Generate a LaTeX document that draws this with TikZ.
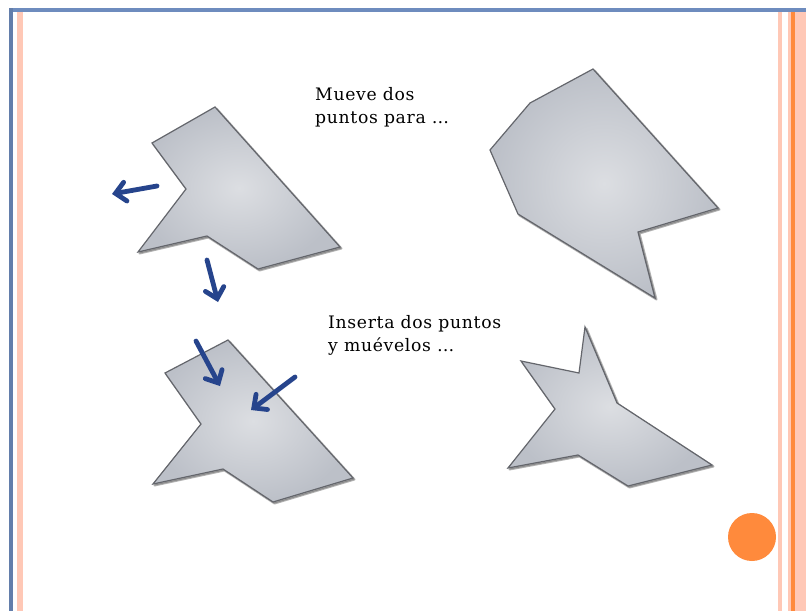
\documentclass[tikz,border=0pt]{standalone}
\usepackage{fontspec}
\setmainfont{DejaVu Serif}[LetterSpace=4]
\usetikzlibrary{arrows.meta}
\definecolor{frameblue}{RGB}{110,140,190}
\definecolor{paleor}{RGB}{255,200,182}
\definecolor{orangeA}{RGB}{255,138,60}
\definecolor{arrowblue}{RGB}{38,68,140}
\definecolor{shapein}{RGB}{220,222,226}
\definecolor{shapeout}{RGB}{188,192,200}
\definecolor{shapeline}{RGB}{100,102,108}
\tikzset{
  poly/.style={draw=shapeline, line width=1.2pt, line join=miter, inner color=shapein, outer color=shapeout},
  polyshadow/.style={fill=black!60, opacity=0.5, draw=black!60, line width=2pt, line join=round},
  movearrow/.style={draw=arrowblue, line width=4.8pt, line cap=round, -{Straight Barb[length=10pt,width=19pt,line cap=round]}},
  caption/.style={font=\fontsize{17.2}{23}\selectfont, align=left, anchor=north west, inner sep=0pt, text=black}
}
\begin{document}
\begin{tikzpicture}[x=1pt,y=-1pt]
\useasboundingbox (0,0) rectangle (806,611);
\fill[white] (0,0) rectangle (806,611);
% frame
\fill[paleor] (17,12) rectangle (23,611);
\fill[paleor] (778,12) rectangle (782,611);
\fill[paleor] (788,12) rectangle (806,611);
\fill[orangeA] (791,12) rectangle (795,611);
\fill[frameblue] (9,8) rectangle (806,12);
\fill[frameblue!90!black] (9,8) rectangle (13,611);
\fill[orangeA] (752,537) circle (24);
% shape 1
\def\shapeA{(215,107) -- (152,143) -- (186,189) -- (138,252) -- (207,236) -- (258,269) -- (340,247) -- cycle}
\fill[polyshadow, shift={(1.5,1.5)}] \shapeA;
\path[poly] \shapeA;
% shape 2
\def\shapeB{(228,340) -- (165,373) -- (201,424) -- (153,484) -- (223,469) -- (273,502) -- (353,478) -- cycle}
\fill[polyshadow, shift={(1.5,1.5)}] \shapeB;
\path[poly] \shapeB;
% shape 3
\def\shapeC{(593,69) -- (530,103) -- (490,150) -- (518,214) -- (655,298) -- (638,232) -- (718,208) -- cycle}
\fill[polyshadow, shift={(1.5,1.5)}] \shapeC;
\path[poly] \shapeC;
% shape 4
\def\shapeD{(585,327) -- (579,373) -- (521,361) -- (555,409) -- (508,468) -- (578,455) -- (628,486) -- (712,465) -- (617,403) -- cycle}
\fill[polyshadow, shift={(1.5,1.5)}] \shapeD;
\path[poly] \shapeD;
% arrows
\coordinate (a1s) at (157,186); \coordinate (a1e) at (112,194);
\coordinate (a2s) at (207,260); \coordinate (a2e) at (218,302);
\coordinate (a3s) at (196,341); \coordinate (a3e) at (220,386);
\coordinate (a4s) at (295,377); \coordinate (a4e) at (251,410);
\draw[movearrow] (a1s) -- (a1e);
\draw[movearrow] (a2s) -- (a2e);
\draw[movearrow] (a3s) -- (a3e);
\draw[movearrow] (a4s) -- (a4e);
% texts
\node[caption] (t1) at (315,87) {Mueve dos\\puntos para …};
\node[caption] (t2) at (328,315) {Inserta dos puntos\\y muévelos …};
\end{tikzpicture}
\end{document}
